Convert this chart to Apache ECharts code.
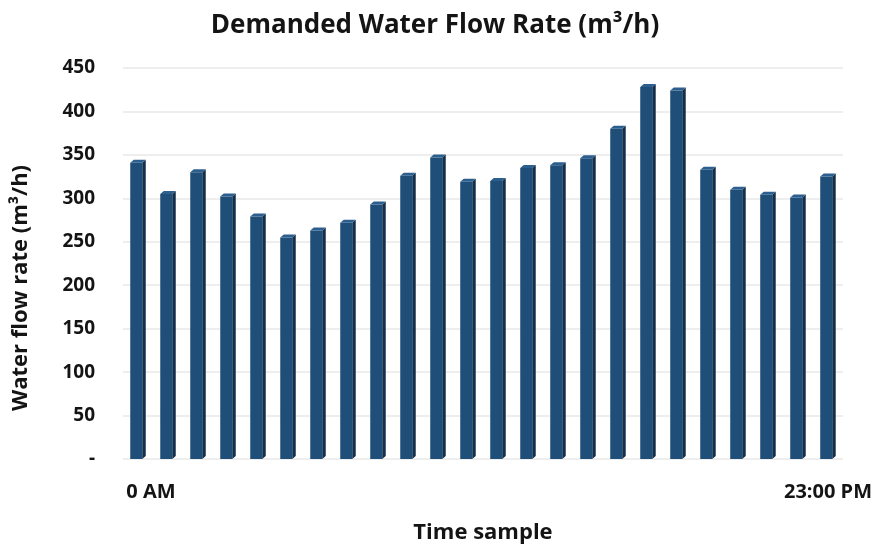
<!DOCTYPE html>
<html>
<head>
<meta charset="utf-8">
<script src="https://cdn.jsdelivr.net/npm/echarts@6/dist/echarts.min.js"></script>
<style>
  html, body { margin: 0; padding: 0; background: #fff; }
  #chart { width: 875px; height: 549px; }
</style>
</head>
<body>
<div id="chart"></div>
<script>
// Hourly samples, 0 AM through 23:00 PM
const hours = ['0 AM', '1', '2', '3', '4', '5', '6', '7', '8', '9', '10', '11',
               '12', '13', '14', '15', '16', '17', '18', '19', '20', '21', '22', '23:00 PM'];
// Demanded water flow rate (m³/h)
const flowRate = [341, 305, 330, 302, 279, 255, 263, 272, 293, 326, 347, 319,
                  320, 335, 338, 346, 380, 428, 424, 333, 310, 304, 301, 325];
// Value-axis ticks
const yTicks = [0, 50, 100, 150, 200, 250, 300, 350, 400, 450];

const FONT = 'Open Sans';
const INK = '#141414';
const FRONT = '#1f4e79';
const SIDE = '#132f4b';
const TOP = '#2d5f8e';

const chart = echarts.init(document.getElementById('chart'));

// Bars drawn with a small extruded side and cap
function renderBar(params, api) {
  const idx = api.value(0);
  const base = api.coord([idx, 0]);
  const top = api.coord([idx, api.value(1)]);
  const band = api.size([1, 0])[0];
  const bw = band * 0.40;
  const d = 3.5, r = 3;
  const fl = base[0] - (bw + d) / 2;
  return {
    type: 'group',
    children: [
      { type: 'polygon', shape: { points: [[fl + bw, top[1]], [fl + bw + d, top[1] - r], [fl + bw + d, base[1] - r], [fl + bw, base[1]]] },
        style: { fill: SIDE } },
      { type: 'rect', shape: { x: fl, y: top[1], width: bw, height: base[1] - top[1] },
        style: { fill: FRONT } },
      { type: 'polygon', shape: { points: [[fl, top[1]], [fl + d, top[1] - r], [fl + bw + d, top[1] - r], [fl + bw, top[1]]] },
        style: { fill: TOP } }
    ]
  };
}

chart.setOption({
  backgroundColor: '#ffffff',
  animation: false,
  title: {
    text: 'Demanded Water Flow Rate (m³/h)',
    left: 430,
    top: 8,
    textAlign: 'center',
    textStyle: { fontFamily: FONT, fontWeight: 'bold', fontSize: 26, color: INK }
  },
  grid: { left: 123, right: 32, top: 68, bottom: 89 },
  xAxis: {
    type: 'category',
    data: hours,
    name: 'Time sample',
    nameLocation: 'middle',
    nameGap: 63,
    nameTextStyle: { fontFamily: FONT, fontWeight: 'bold', fontSize: 22, color: INK },
    axisLine: { show: false },
    axisTick: { show: false },
    axisLabel: {
      interval: (i) => i === 0 || i === hours.length - 1,
      margin: 23,
      fontFamily: FONT, fontWeight: 'bold', fontSize: 20, color: INK,
      formatter: (v, i) => i === 0 ? '{first|' + v + '}' : v,
      rich: {
        first: { fontFamily: FONT, fontWeight: 'bold', fontSize: 20, color: INK, padding: [0, 0, 0, 26] }
      }
    }
  },
  yAxis: {
    type: 'value',
    min: yTicks[0],
    max: yTicks[yTicks.length - 1],
    interval: yTicks[1] - yTicks[0],
    axisLine: { show: false },
    axisTick: { show: false },
    splitLine: { lineStyle: { color: '#e8e8e8', width: 1.5 } },
    axisLabel: {
      margin: 28,
      fontFamily: FONT, fontWeight: 'bold', fontSize: 19, color: INK,
      formatter: (v) => v === 0 ? '-' : String(v)
    }
  },
  graphic: [{
    type: 'text',
    x: 21,
    y: 288,
    rotation: Math.PI / 2,
    style: {
      text: 'Water flow rate (m³/h)',
      fontFamily: FONT, fontWeight: 'bold', fontSize: 22, fill: INK,
      align: 'center', verticalAlign: 'middle'
    }
  }],
  series: [{
    type: 'custom',
    renderItem: renderBar,
    encode: { x: 0, y: 1 },
    data: flowRate.map((v, i) => [i, v])
  }]
});
</script>
</body>
</html>
